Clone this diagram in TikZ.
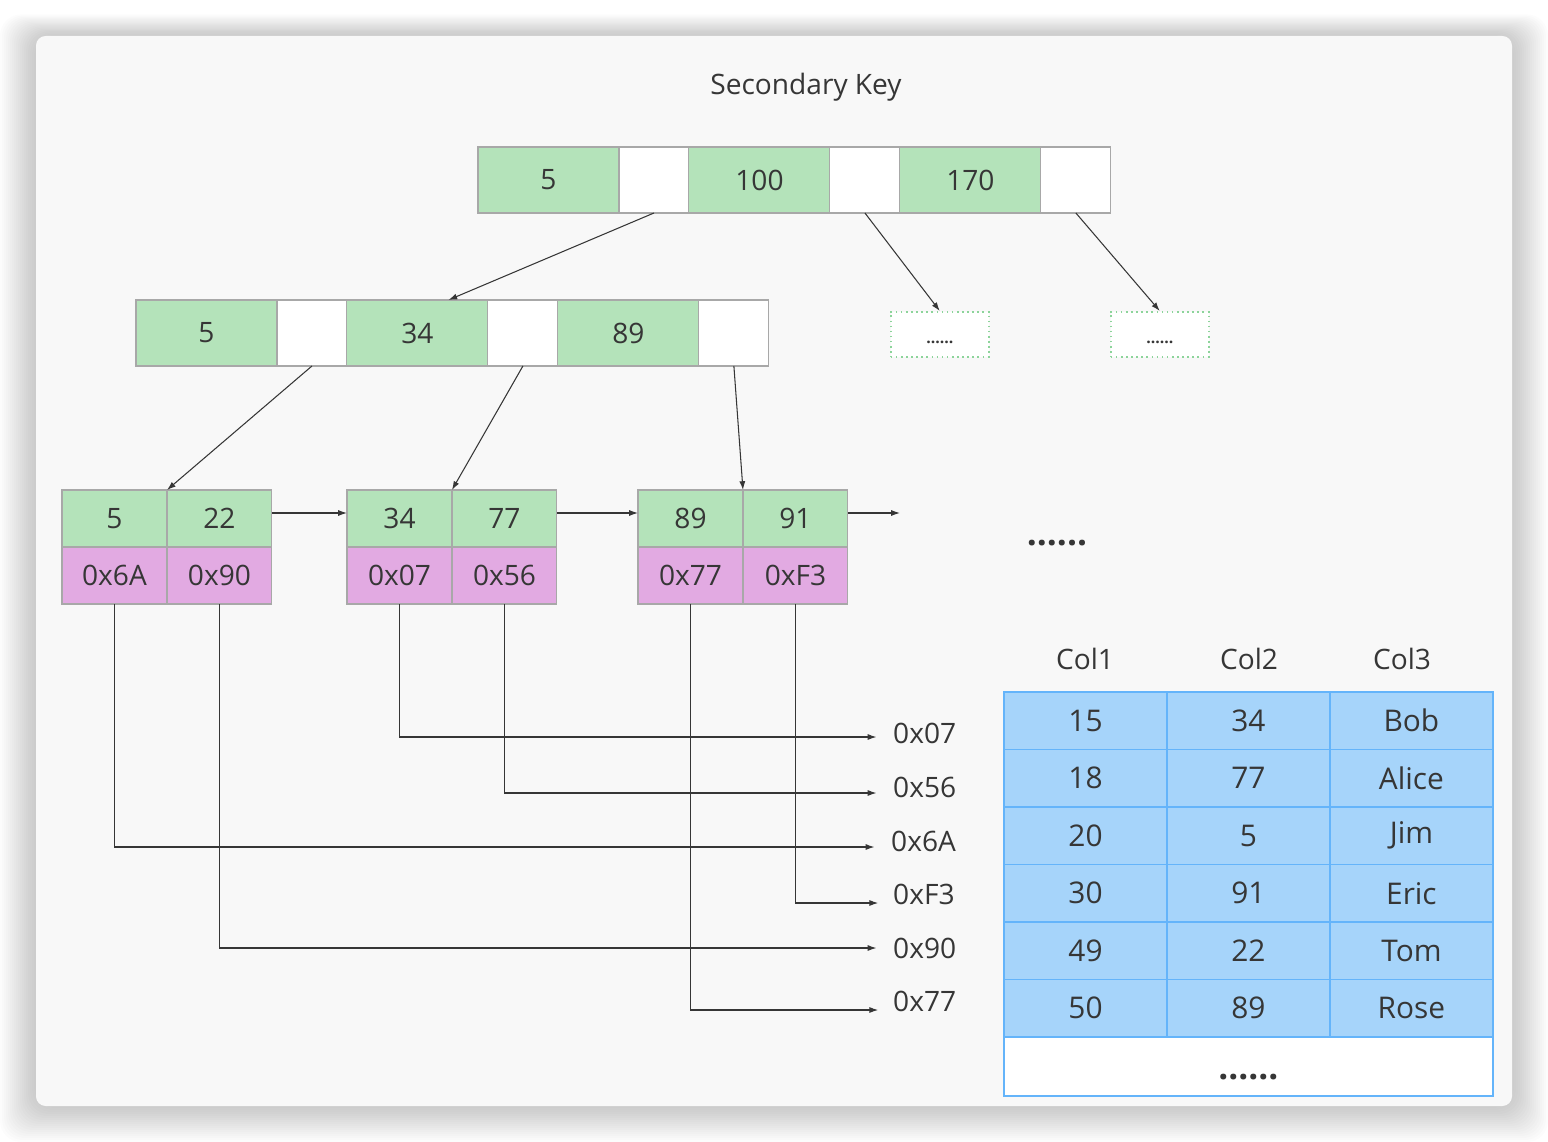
\documentclass[tikz,border=0pt]{standalone}
\usepackage{fontspec}
\setmainfont{Open Sans}
\usetikzlibrary{arrows.meta,positioning,calc}

\definecolor{keygreen}{HTML}{B4E3BA}
\definecolor{ptrpink}{HTML}{E2AAE2}
\definecolor{rowblue}{HTML}{A6D4FA}
\definecolor{rowline}{HTML}{64B4FA}
\definecolor{cellgray}{HTML}{A8A8A8}
\definecolor{txtgray}{HTML}{363636}
\definecolor{cardgray}{HTML}{F8F8F8}
\definecolor{dotgreen}{HTML}{8CD49A}

\begin{document}
\begin{tikzpicture}[
    x=0.02cm, y=-0.02cm,
    node distance=0pt,
    every node/.style={text=txtgray, font=\fontsize{16}{19}\selectfont},
    cell/.style={rectangle, draw=cellgray, line width=0.6pt, inner sep=0pt, outer sep=0pt},
    keycell/.style={cell, fill=keygreen, minimum width=2.82cm, minimum height=1.32cm},
    gapcell/.style={cell, fill=white, minimum width=1.40cm, minimum height=1.32cm},
    leafkey/.style={cell, fill=keygreen, minimum width=2.1cm, minimum height=1.14cm},
    leafptr/.style={cell, fill=ptrpink, minimum width=2.1cm, minimum height=1.14cm},
    morebox/.style={rectangle, draw=dotgreen, dotted, line width=0.9pt, fill=white, minimum width=1.96cm, minimum height=0.9cm, inner sep=0pt, text height=11pt, text depth=0pt, font=\bfseries\fontsize{9}{10}\selectfont},
    rowcell/.style={rectangle, draw=rowline, line width=0.8pt, fill=rowblue, minimum width=3.26cm, minimum height=1.15cm, inner sep=0pt, outer sep=0pt, font=\fontsize{17}{20}\selectfont},
    addr/.style={anchor=west},
    arr/.style={-{Latex[length=5pt,width=3.4pt]}, line width=0.6pt, draw=txtgray}
]
\useasboundingbox (0,0) rectangle (1548,1142);
% card with soft shadow
\foreach \s in {2,4,...,36}
  \fill[black, opacity=0.011, rounded corners=12pt] ({36-\s},{36-0.6*\s}) rectangle ({1512+\s},{1106+\s});
\fill[cardgray, rounded corners=5.5pt] (36,36) rectangle (1512,1106);

\node (title) at (806,87) {Secondary Key};

% root
\node[keycell, anchor=north west] (rk1) at (478,147) {5};
\node[gapcell, right=of rk1] (rp1) {};
\node[keycell, right=of rp1] (rk2) {100};
\node[gapcell, right=of rk2] (rp2) {};
\node[keycell, right=of rp2] (rk3) {170};
\node[gapcell, right=of rk3] (rp3) {};

\node[morebox, anchor=north west] (rm2) at (890,311) {......};
\node[morebox, anchor=north west] (rm3) at (1110,311) {......};

% middle level
\node[keycell, anchor=north west] (mk1) at (136,300) {5};
\node[gapcell, right=of mk1] (mp1) {};
\node[keycell, right=of mp1] (mk2) {34};
\node[gapcell, right=of mk2] (mp2) {};
\node[keycell, right=of mp2] (mk3) {89};
\node[gapcell, right=of mk3] (mp3) {};

% leaves
\node[leafkey, anchor=north west] (la1) at (62,490) {5};
\node[leafkey, right=of la1] (la2) {22};
\node[leafptr, below=of la1] (la1p) {0x6A};
\node[leafptr, below=of la2] (la2p) {0x90};

\node[leafkey, anchor=north west] (lb1) at (347,490) {34};
\node[leafkey, right=of lb1] (lb2) {77};
\node[leafptr, below=of lb1] (lb1p) {0x07};
\node[leafptr, below=of lb2] (lb2p) {0x56};

\node[leafkey, anchor=north west] (lc1) at (638,490) {89};
\node[leafkey, right=of lc1] (lc2) {91};
\node[leafptr, below=of lc1] (lc1p) {0x77};
\node[leafptr, below=of lc2] (lc2p) {0xF3};

\coordinate (lnext) at (900,513);
\node[font=\bfseries\fontsize{20}{22}\selectfont] (more) at (1057,543) {......};

% tree links
\draw[arr] (rp1.south) -- ($(mk2.north)+(31,0)$);
\draw[arr] (rp2.south) -- (rm2.north);
\draw[arr] (rp3.south) -- (rm3.north);
\draw[arr] (mp1.south) -- (la1.north east);
\draw[arr] (mp2.south) -- (lb1.north east);
\draw[arr] (mp3.south) -- (lc1.north east);
\draw[arr] (la2.east |- 0,513) -- (lb1.west |- 0,513);
\draw[arr] (lb2.east |- 0,513) -- (lc1.west |- 0,513);
\draw[arr] (lc2.east |- 0,513) -- (lnext);

% row addresses
\node[addr] (a07) at (887,733) {0x07};
\node[addr] (a56) at (887,787) {0x56};
\node[addr] (a6A) at (885,841) {0x6A};
\node[addr] (aF3) at (887,894) {0xF3};
\node[addr] (a90) at (887,948) {0x90};
\node[addr] (a77) at (887,1001) {0x77};

\draw[arr, shorten >=6pt] (lb1p.south) |- ($(a07.west)+(0,4)$);
\draw[arr, shorten >=6pt] (lb2p.south) |- ($(a56.west)+(0,6)$);
\draw[arr, shorten >=6pt] (la1p.south) |- ($(a6A.west)+(0,6)$);
\draw[arr, shorten >=5pt] (lc2p.south) |- ($(aF3.west)+(0,9)$);
\draw[arr, shorten >=6pt] (la2p.south) |- (a90.west);
\draw[arr, shorten >=5pt] (lc1p.south) |- ($(a77.west)+(0,9)$);

% table
\node (col1) at (1085,659) {Col1};
\node (col2) at (1249,659) {Col2};
\node (col3) at (1402,659) {Col3};
\foreach \a/\b/\c [count=\i] in {15/34/Bob, 18/77/Alice, 20/5/Jim, 30/91/Eric, 49/22/Tom, 50/89/Rose} {
  \node[rowcell, anchor=north west] (t\i a) at (1004,{692+57.5*(\i-1)}) {\a};
  \node[rowcell, right=of t\i a] (t\i b) {\b};
  \node[rowcell, right=of t\i b] (t\i c) {\c};
}
\node[rowcell, fill=white, anchor=north west, minimum width=9.78cm, minimum height=1.18cm, text height=15pt, text depth=0pt, font=\bfseries\fontsize{20}{22}\selectfont] (trest) at (t6a.south west) {......};
\end{tikzpicture}
\end{document}
